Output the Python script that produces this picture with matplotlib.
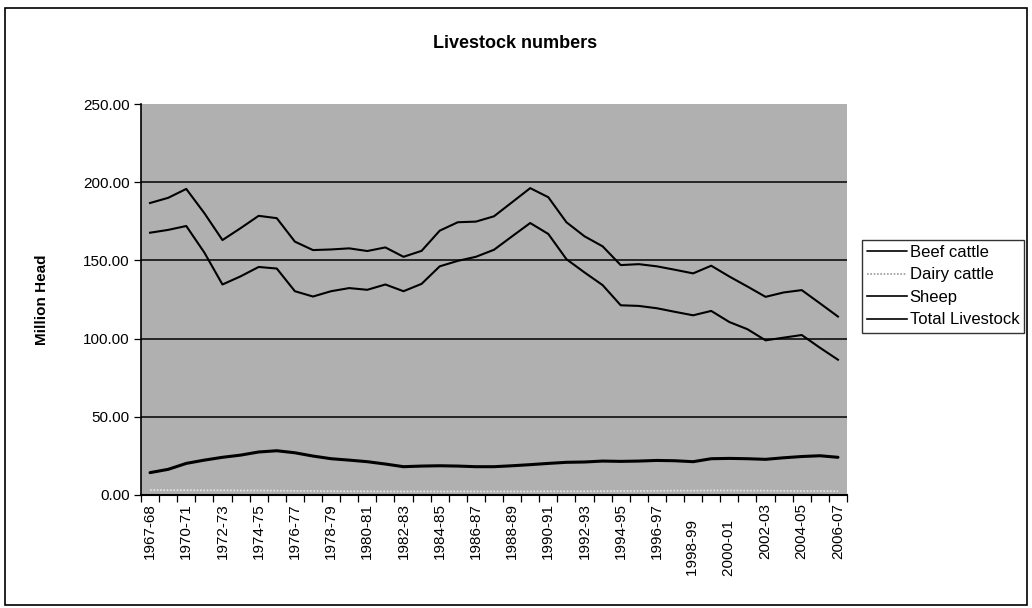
import matplotlib
matplotlib.use("Agg")
import matplotlib.pyplot as plt
from matplotlib.patches import Rectangle

plt.rcParams['font.family'] = ['Liberation Sans', 'DejaVu Sans']

years = ["1967-68", "1969-70", "1970-71", "1971-72", "1972-73", "1973-74", "1974-75",
         "1975-76", "1976-77", "1977-78", "1978-79", "1979-80", "1980-81", "1981-82",
         "1982-83", "1983-84", "1984-85", "1985-86", "1986-87", "1987-88", "1988-89",
         "1989-90", "1990-91", "1991-92", "1992-93", "1993-94", "1994-95", "1995-96",
         "1996-97", "1997-98", "1998-99", "1999-00", "2000-01", "2001-02", "2002-03",
         "2003-04", "2004-05", "2005-06", "2006-07"]

beef = [14.3, 16.4, 20.2, 22.3, 24.1, 25.5, 27.5, 28.3, 27.0, 24.9, 23.2, 22.3, 21.3,
        19.8, 18.1, 18.5, 18.7, 18.5, 18.1, 18.1, 18.7, 19.4, 20.2, 20.9, 21.1, 21.7,
        21.5, 21.7, 22.1, 21.9, 21.3, 23.2, 23.4, 23.2, 22.8, 23.8, 24.6, 25.1, 24.1]

dairy = [3.2, 3.1, 3.1, 3.0, 3.0, 2.9, 2.9, 2.8, 2.7, 2.6, 2.5, 2.4, 2.4,
         2.3, 2.3, 2.3, 2.3, 2.3, 2.3, 2.3, 2.3, 2.3, 2.4, 2.4, 2.4, 2.5,
         2.6, 2.6, 2.7, 2.8, 2.8, 2.9, 2.9, 2.8, 2.8, 2.7, 2.6, 2.6, 2.5]

sheep = [167.7, 169.5, 172.0, 155.0, 134.6, 139.8, 145.8, 144.8, 130.3, 126.9, 130.3,
         132.3, 131.2, 134.6, 130.3, 135.0, 146.2, 149.7, 152.3, 156.8, 165.4, 173.9,
         166.9, 150.8, 142.3, 134.2, 121.3, 120.9, 119.4, 117.1, 114.9, 117.7, 110.6,
         106.0, 98.9, 100.6, 102.3, 94.2, 86.5]

total = [186.7, 190.0, 195.7, 180.2, 163.0, 170.6, 178.5, 177.0, 162.0, 156.6, 157.0,
         157.7, 156.0, 158.3, 152.3, 156.1, 169.0, 174.4, 174.8, 178.2, 187.2, 196.2,
         190.4, 174.4, 165.4, 159.0, 147.0, 147.6, 146.2, 144.0, 141.7, 146.6, 139.7,
         133.3, 126.7, 129.5, 131.0, 122.6, 114.1]

yticks = [0, 50, 100, 150, 200, 250]

fig = plt.figure(figsize=(10.32, 6.08), dpi=100)
fig.patch.set_facecolor('white')
ax = fig.add_axes([141/1032, 1-495/608, (847-141)/1032, (495-104)/608])
ax.set_facecolor('#b0b0b0')

x = list(range(len(years)))
ax.plot(x, beef, color='black', lw=2.2, label='Beef cattle', solid_capstyle='round')
ax.plot(x, dairy, color='#e8e8e8', lw=1.2, ls=(0, (1, 1)), label='Dairy cattle')
ax.plot(x, sheep, color='black', lw=1.5, label='Sheep')
ax.plot(x, total, color='black', lw=1.5, label='Total Livestock')

ax.set_xlim(-0.5, len(years) - 0.5)
ax.set_ylim(0, 250)
ax.set_yticks(yticks)
ax.set_yticklabels([f"{v:.2f}" for v in yticks], fontsize=11)
for v in yticks[1:-1]:
    ax.axhline(v, color='black', lw=1.1, zorder=1)

# category boundary ticks
ax.set_xticks([i - 0.5 for i in range(len(years) + 1)], minor=True)
ax.set_xticks(x[::2])
labels = []
for y in years[::2]:
    if y in ("1998-99", "2000-01"):
        labels.append(y + "    ")
    else:
        labels.append(y)
ax.set_xticklabels(labels, rotation=90, fontsize=11)
ax.tick_params(axis='x', which='major', length=0, pad=6)
ax.tick_params(axis='x', which='minor', length=5, width=0.9, direction='out')
ax.tick_params(axis='y', length=5, width=0.9, direction='out', pad=3)

for s in ['top', 'right']:
    ax.spines[s].set_visible(False)
ax.spines['left'].set_linewidth(1.2)
ax.spines['bottom'].set_linewidth(1.5)

ax.set_ylabel('Million Head', fontsize=11, fontweight='bold', labelpad=25)
fig.text(515/1032, 1-43/608, 'Livestock numbers', ha='center', va='center',
         fontsize=13, fontweight='bold')

leg = ax.legend(loc='upper left', bbox_to_anchor=(862/1032, 1-240/608),
                bbox_transform=fig.transFigure, frameon=True, fancybox=False,
                fontsize=12, handlelength=2.4, handletextpad=0.15,
                borderpad=0.3, labelspacing=0.45, borderaxespad=0)
leg.get_frame().set_edgecolor('black')
leg.get_frame().set_linewidth(1.0)
for h in leg.get_lines():
    h.set_linewidth(1.2)
leg.get_lines()[1].set_color('#999999')

fig.patches.append(Rectangle((5/1032, 3/608), 1022/1032, 597/608, transform=fig.transFigure,
                             fill=False, edgecolor='black', lw=1.2))

fig.savefig('out.png', dpi=100)
